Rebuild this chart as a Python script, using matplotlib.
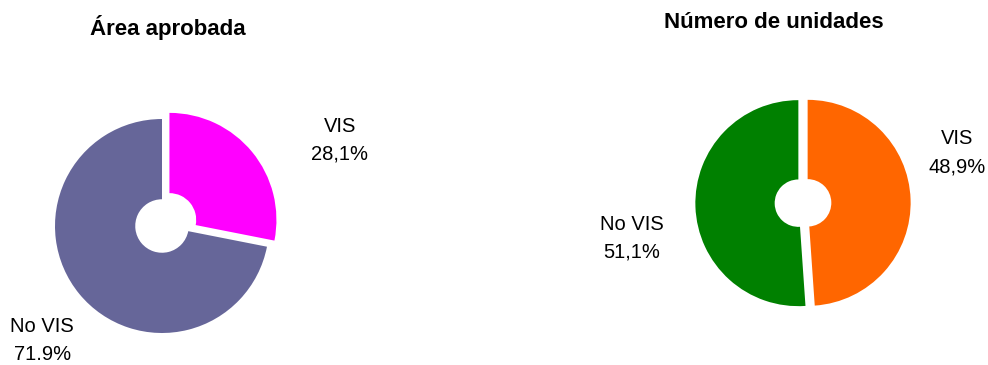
"""Two exploded donut charts: VIS vs No VIS share of approved area and of units."""

import matplotlib

matplotlib.use("Agg")
import matplotlib.pyplot as plt

plt.rcParams["font.family"] = ["Liberation Sans", "DejaVu Sans"]

# Data
categories = ["VIS", "No VIS"]
area_share = [28.1, 71.9]
units_share = [48.9, 51.1]
area_labels = ["VIS\n28,1%", "No VIS\n71.9%"]
units_labels = ["VIS\n48,9%", "No VIS\n51,1%"]
titles = ["Área aprobada", "Número de unidades"]

area_colors = ["#FF00FF", "#666699"]
units_colors = ["#FF6600", "#008000"]

FIG_W, FIG_H = 988, 365
DPI = 100
LIM = 1.3


def donut_axes(fig, cx, cy, radius_px):
    """Square axes where one data unit equals radius_px pixels, centred on (cx, cy)
    given in pixels from the top-left corner."""
    side = 2 * LIM * radius_px
    left = (cx - side / 2) / FIG_W
    bottom = (FIG_H - cy - side / 2) / FIG_H
    ax = fig.add_axes([left, bottom, side / FIG_W, side / FIG_H])
    return ax


def draw_donut(ax, shares, colors, explode, width, labels, label_pos):
    ax.pie(
        shares,
        colors=colors,
        startangle=90,
        counterclock=False,
        explode=explode,
        radius=1.0,
        wedgeprops=dict(width=width, linewidth=0),
        frame=False,
    )
    ax.set_xlim(-LIM, LIM)
    ax.set_ylim(-LIM, LIM)
    ax.set_aspect("equal")
    ax.axis("off")
    for label, (x, y) in zip(labels, label_pos):
        ax.text(x, y, label, ha="center", va="center", fontsize=14.5,
                linespacing=1.6, clip_on=False)


fig = plt.figure(figsize=(FIG_W / DPI, FIG_H / DPI), dpi=DPI)

# Left donut: approved area (VIS slice pulled out)
ax_area = donut_axes(fig, 162, 226, 107)
draw_donut(ax_area, area_share, area_colors, [0.09, 0.0], 0.75,
           area_labels, [(1.66, 0.80), (-1.12, -1.07)])

# Right donut: number of units (both halves pulled apart)
ax_units = donut_axes(fig, 803, 203, 103)
draw_donut(ax_units, units_share, units_colors, [0.045, 0.045], 0.77,
           units_labels, [(1.50, 0.49), (-1.66, -0.34)])

# Titles, placed in pixel terms
for title, (tx, ty) in zip(titles, [(168, 27), (774, 23)]):
    fig.text(tx / FIG_W, 1 - ty / FIG_H, title, ha="center", va="center",
             fontsize=16, fontweight="bold")

fig.savefig("out.png", dpi=DPI)
